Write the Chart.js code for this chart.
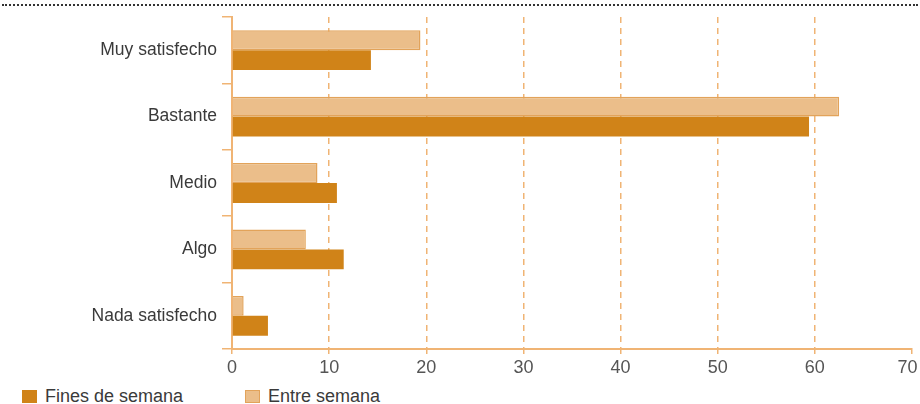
<!DOCTYPE html>
<html>
<head>
<meta charset="utf-8">
<script src="https://cdn.jsdelivr.net/npm/chart.js@4"></script>
<style>
  body { margin: 0; background: #fff; font-family: "Liberation Sans", Arial, sans-serif; }
  #wrap { position: relative; width: 920px; height: 404px; overflow: hidden; }
  #dots { position: absolute; left: 2px; top: 4px; width: 916px; border-top: 2px dotted #333; }
  #grafico { position: absolute; left: 0; top: 0; }
  .leyenda { position: absolute; top: 386px; font-size: 18px; color: #3a3a3a; }
  .leyenda span.caja { display: inline-block; width: 15px; height: 13px; vertical-align: -1px; margin-right: 8px; box-sizing: border-box; }
</style>
</head>
<body>
<div id="wrap">
  <div id="dots"></div>
  <canvas id="grafico" width="920" height="380"></canvas>
  <div class="leyenda" style="left:22px"><span class="caja" style="background:#D08318"></span>Fines de semana</div>
  <div class="leyenda" style="left:245px"><span class="caja" style="background:#EBBE8A;border:1.5px solid #E2A35A"></span>Entre semana</div>
</div>
<script>
const categorias = ["Muy satisfecho", "Bastante", "Medio", "Algo", "Nada satisfecho"];
const entreSemana = [19.4, 62.5, 8.8, 7.6, 1.2];
const finesSemana = [14.3, 59.4, 10.8, 11.5, 3.7];
const ticksX = [0, 10, 20, 30, 40, 50, 60, 70];

const naranja = "#F0B474";

const grafico = new Chart(document.querySelector("#grafico"), {
  type: 'bar',
  data: {
    labels: categorias,
    datasets: [{
      label: 'Entre semana',
      data: entreSemana,
      backgroundColor: '#EBBE8A',
      borderColor: '#E2A35A',
      borderWidth: 1.5,
      borderSkipped: 'left',
      barPercentage: 1,
      categoryPercentage: 0.6
    }, {
      label: 'Fines de semana',
      data: finesSemana,
      backgroundColor: '#D08318',
      borderWidth: 0,
      barPercentage: 1,
      categoryPercentage: 0.6
    }]
  },
  options: {
    indexAxis: 'y',
    responsive: false,
    animation: false,
    layout: { padding: { top: 17, left: 0, right: 0, bottom: 0 } },
    plugins: { legend: { display: false }, tooltip: { enabled: false } },
    scales: {
      x: {
        min: 0,
        max: 70,
        afterBuildTicks: (eje) => { eje.ticks = ticksX.map(v => ({ value: v })); },
        afterFit: (eje) => { eje.height = 31; eje.paddingRight = 8; },
        border: { color: naranja, width: 2, dash: [6, 5] },
        grid: {
          color: (ctx) => (ctx.tick && (ctx.tick.value === 0 || ctx.tick.value === 70)) ? 'rgba(0,0,0,0)' : naranja,
          lineWidth: 1.5,
          tickColor: naranja,
          tickBorderDash: [],
          tickLength: 5
        },
        ticks: {
          color: '#555',
          padding: 3,
          font: { family: "Liberation Sans", size: 18 },
          // el último rótulo se desplaza un poco a la izquierda, como en el original
          callback: (valor) => valor === 70 ? '70\u2002' : String(valor)
        }
      },
      y: {
        afterFit: (eje) => { eje.width = 232; },
        border: { color: naranja, width: 2 },
        grid: {
          drawOnChartArea: false,
          color: naranja,
          tickLength: 10,
          lineWidth: 1.5
        },
        ticks: {
          color: '#3a3a3a',
          padding: 5,
          font: { family: "Liberation Sans", size: 17.5 }
        }
      }
    }
  }
});
</script>
</body>
</html>
